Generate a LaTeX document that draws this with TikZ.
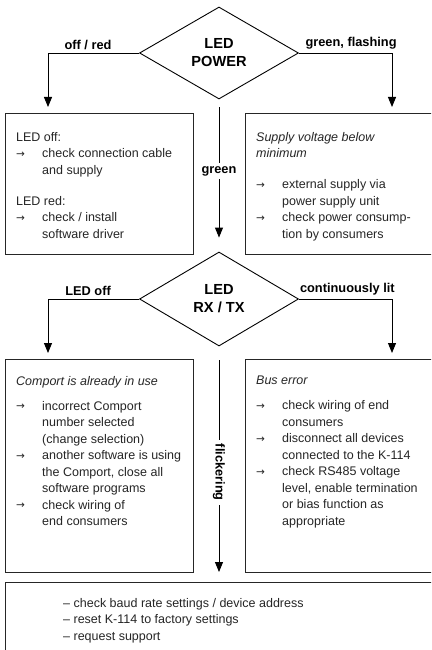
\documentclass[tikz,border=0pt]{standalone}
\usepackage{fontspec}
\setmainfont{Liberation Sans}
\newfontfamily\arrfont{DejaVu Sans}
\usetikzlibrary{shapes.geometric,arrows.meta}
\newcommand{\myarr}{\makebox[26pt][l]{\arrfont\fontsize{10.5}{12}\selectfont\raisebox{0.3pt}{→}}}
\newcommand{\myind}{\hspace*{26pt}}
\begin{document}
\begin{tikzpicture}[x=1pt,y=-1pt,
  box/.style={draw=black!85, line width=1.2pt, rectangle, inner sep=0pt, anchor=north west},
  dia/.style={diamond, draw=black, line width=0.9pt, inner sep=0pt, font=\fontsize{14.6}{18}\selectfont\bfseries, align=center},
  conn/.style={draw=black, line width=0.9pt, -{Triangle[length=10pt,width=8pt]}},
  lbl/.style={font=\fontsize{12.8}{15}\selectfont\bfseries, inner sep=0pt},
  txt/.style={font=\fontsize{12.5}{16.5}\selectfont, align=left, anchor=north west, inner sep=0pt, text=black!85}]
\clip (0,0) rectangle (431,650);
\fill[white] (0,0) rectangle (431,650);

% decision diamonds
\node[dia, minimum width=159pt, minimum height=92pt] (p1) at (219,53) {LED\\POWER};
\node[dia, minimum width=159pt, minimum height=94pt] (p2) at (219,299) {LED\\RX / TX};

% boxes
\node[box, minimum width=188pt, minimum height=141pt] (b1) at (5,113) {};
\node[box, minimum width=200pt, minimum height=141pt] (b2) at (245,113) {};
\node[box, minimum width=188pt, minimum height=213pt] (b3) at (5,359) {};
\node[box, minimum width=200pt, minimum height=213pt] (b4) at (245,359) {};
\node[box, minimum width=440pt, minimum height=90pt] (b5) at (5,582) {};

% box texts
\node[txt] (x1) at (16,132) {LED off:\\
\myarr check connection cable\\
\myind and supply\\[14.5pt]
LED red:\\
\myarr check / install\\
\myind software driver};

\node[txt] (x2) at (256,132) {\itshape Supply voltage below\\
\itshape minimum\\[14.5pt]
\myarr external supply via\\
\myind power supply unit\\
\myarr check power consump-\\
\myind tion by consumers};

\node[txt] (x3) at (16,376) {\itshape Comport is already in use\\[8.5pt]
\myarr incorrect Comport\\
\myind number selected\\
\myind (change selection)\\
\myarr another software is using\\
\myind the Comport, close all\\
\myind software programs\\
\myarr check wiring of\\
\myind end consumers};

\node[txt] (x4) at (256,376) {\itshape Bus error\\[8.5pt]
\myarr check wiring of end\\
\myind consumers\\
\myarr disconnect all devices\\
\myind connected to the K-114\\
\myarr check RS485 voltage\\
\myind level, enable termination\\
\myind or bias function as\\
\myind appropriate};

\node[txt] (x5) at (63,598) {– check baud rate settings / device address\\
– reset K-114 to factory settings\\
– request support};

% arrow tips
\coordinate (t1) at (48,107);
\coordinate (t2) at (392,107);
\coordinate (t3) at (48,353);
\coordinate (t4) at (392,353);

% connectors
\draw[conn] (p1.west) -| (t1) node[lbl, pos=0.28, above=3pt] {off / red};
\draw[conn] (p1.east) -| (t2) node[lbl, pos=0.28, above=3pt] {green, flashing};
\draw[conn] (p2.west) -| (t3) node[lbl, pos=0.28, above=3pt] {LED off};
\draw[conn] (p2.east) -| (t4) node[lbl, pos=0.26, above=3pt] {continuously lit};
\draw[conn, shorten <=8pt, shorten >=14pt] (p1.south) -- (p2.north)
  node[lbl, pos=0.47, fill=white, inner sep=3pt] {green};
\draw[conn, shorten <=14pt, shorten >=10pt] (p2.south) -- (b5.north -| p2.south)
  node[lbl, pos=0.534, fill=white, inner sep=4pt, rotate=-90] {flickering};
\end{tikzpicture}
\end{document}
